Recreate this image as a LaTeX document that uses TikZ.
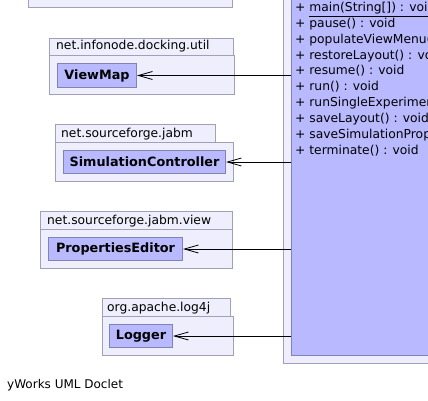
\documentclass[tikz,border=0pt]{standalone}
\usepackage{fontspec}
\setmainfont{DejaVu Sans}
\usetikzlibrary{arrows.meta}
\definecolor{pkgfill}{HTML}{EEEEFC}
\definecolor{pkgdraw}{HTML}{A0A0B6}
\definecolor{clsfill}{HTML}{B9B9FF}
\definecolor{clsdraw}{HTML}{8383B3}
\begin{document}
\begin{tikzpicture}[x=1pt,y=-1pt,
  pkg/.style={draw=pkgdraw,fill=pkgfill,line width=1pt,inner sep=0pt,anchor=north west},
  cls/.style={draw=clsdraw,fill=clsfill,line width=1pt,inner sep=0pt,anchor=north west,
    font=\fontsize{12.8}{15}\selectfont\bfseries},
  lbl/.style={inner sep=0pt,anchor=base west,font=\fontsize{12.3}{15}\selectfont},
  meth/.style={inner sep=0pt,anchor=base west,font=\fontsize{12.3}{15}\selectfont},
  dep/.style={line width=0.9pt,-{Straight Barb[length=14pt,width=8pt,line width=0.8pt]}}]
\useasboundingbox (0,0) rectangle (428,401);
\clip (0,0) rectangle (428,401);
\fill[white] (0,0) rectangle (428,401);
% top-left package (cut off)
\node[pkg,minimum width=204pt,minimum height=27pt] (toppkg) at (28,-20) {};
% big class at right
\node[pkg,minimum width=170pt,minimum height=383pt] (bigpkg) at (283,-20) {};
\node[draw=clsdraw,fill=clsfill,line width=1pt,inner sep=0pt,anchor=north west,
  minimum width=160pt,minimum height=375pt] (big) at (291,-20) {};
\node[meth] (m1) at (295,11.8) {+ \underline{main(String[]) : void}};
\node[meth] (m2) at (295,27.6) {+ pause() : void};
\node[meth] (m3) at (295,43.4) {+ populateViewMenu() : void};
\node[meth] (m4) at (295,59.2) {+ restoreLayout() : void};
\node[meth] (m5) at (295,75.0) {+ resume() : void};
\node[meth] (m6) at (295,90.8) {+ run() : void};
\node[meth] (m7) at (295,106.6) {+ runSingleExperiment() : void};
\node[meth] (m8) at (295,122.4) {+ saveLayout() : void};
\node[meth] (m9) at (295,138.2) {+ saveSimulationProperties() : void};
\node[meth] (m10) at (295,154.0) {+ terminate() : void};
% net.infonode.docking.util
\node[pkg,minimum width=184pt,minimum height=17pt] (p1tab) at (49,38) {};
\node[pkg,minimum width=185pt,minimum height=39pt] (p1) at (49,55) {};
\node[lbl] (p1lbl) at (56,50) {net.infonode.docking.util};
\node[cls,minimum width=79pt,minimum height=24pt] (vm) at (57,63) {ViewMap};
% net.sourceforge.jabm
\node[pkg,minimum width=160pt,minimum height=18pt] (p2tab) at (55,124) {};
\node[pkg,minimum width=178pt,minimum height=39pt] (p2) at (55,142) {};
\node[lbl] (p2lbl) at (61,137) {net.sourceforge.jabm};
\node[cls,minimum width=162pt,minimum height=23pt] (sc) at (63,150) {SimulationController};
% net.sourceforge.jabm.view
\node[pkg,minimum width=192pt,minimum height=18pt] (p3tab) at (40,211) {};
\node[pkg,minimum width=192pt,minimum height=39pt] (p3) at (40,229) {};
\node[lbl] (p3lbl) at (47,224) {net.sourceforge.jabm.view};
\node[cls,minimum width=134pt,minimum height=23pt] (pe) at (48,237) {PropertiesEditor};
% org.apache.log4j
\node[pkg,minimum width=128pt,minimum height=18pt] (p4tab) at (102,298) {};
\node[pkg,minimum width=131pt,minimum height=39pt] (p4) at (102,316) {};
\node[lbl] (p4lbl) at (107,311) {org.apache.log4j};
\node[cls,minimum width=63pt,minimum height=23pt] (lg) at (109,324) {Logger};
% dependencies
\draw[dep] (vm.east -| big.west) -- (vm.east);
\draw[dep] (sc.east -| big.west) -- (sc.east);
\draw[dep] (pe.east -| big.west) -- (pe.east);
\draw[dep] (lg.east -| big.west) -- (lg.east);
% footer
\node[lbl,font=\fontsize{12}{15}\selectfont] (footer) at (7,388) {yWorks UML Doclet};
\end{tikzpicture}
\end{document}
